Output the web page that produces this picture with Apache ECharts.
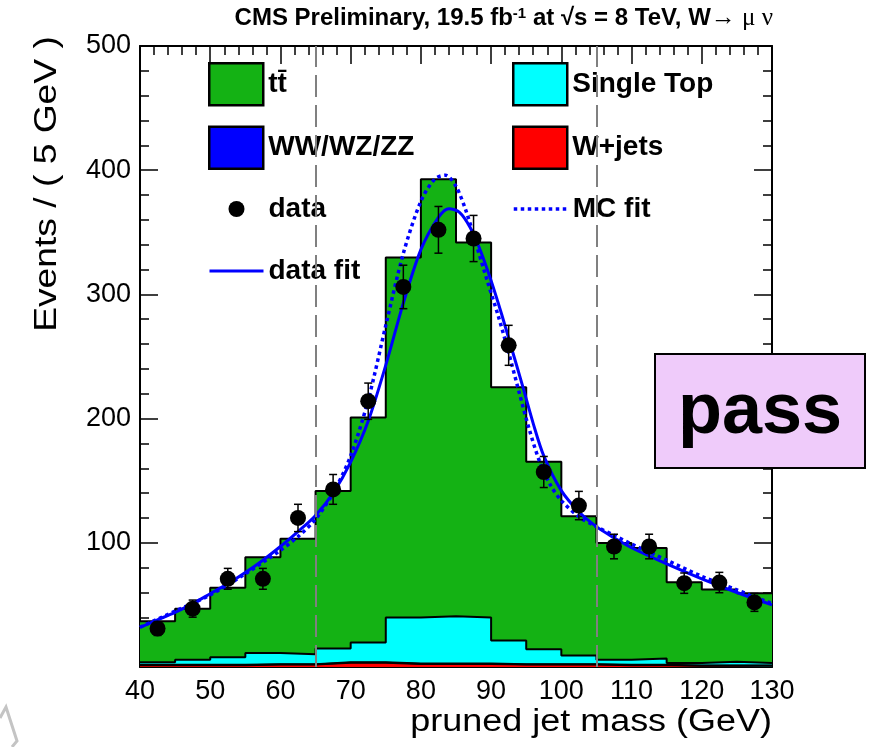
<!DOCTYPE html>
<html><head><meta charset="utf-8">
<script src="https://cdn.jsdelivr.net/npm/echarts@6/dist/echarts.min.js"></script>
<style>html,body{margin:0;padding:0;background:#fff}#c{width:874px;height:747px}</style>
</head><body><div id="c"></div>
<script>
// ---- data ----
const binLow    = [40,45,50,55,60,65,70,75,80,85,90,95,100,105,110,115,120,125];
const binHigh   = 130;
const wjets     = [1.5,1.5,1.5,2,2,3.5,3.5,2.5,2.5,2.5,2,2,2,1.5,1.5,1,1,1];
const diboson   = [0.3,0.3,0.3,0.3,0.3,0.3,0.3,0.3,0.3,0.3,0.3,0.3,0.3,0.3,0.3,0.3,0.3,0.3];
const singleTop = [2,4,6,9,8,11,16,37,38,37,19,12,7,4,5,2,3,2];
const ttbar     = [33,41,56,77,93,127,181,290,352,302,204,151,112,94,89,65,58,56];
const dataX     = [42.5,47.5,52.5,57.5,62.5,67.5,72.5,77.5,82.5,87.5,92.5,97.5,102.5,107.5,112.5,117.5,122.5,127.5];
const dataY     = [31,47,71,71,120,143,214,306,352,345,259,157,130,97,97,67.5,68,52];
const dataErr   = [5.6,6.9,8.4,8.4,11,12,14.6,17.5,18.8,18.6,16.1,12.5,11.4,9.9,9.9,8.2,8.2,7.2];
const fitX = [40,42.5,45,47.5,50,52.5,55,57.5,60,62.5,65,67.5,70,72.5,75,77.5,80,82.5,84,85.5,87,88.5,90,91.5,93,94.5,96,97.5,100,102.5,105,107.5,110,115,120,125,130];
const fitY = [32,38,44,51,59,67,76,86,97,109,122,140,165,198,243,293,336,362,369,366,354,335,311,284,255,226,196,170,142,125,113,104,96,83,71,60,50];
const mcX  = [40,45,50,55,60,62.5,65,67.5,70,72.5,75,77.5,80,82,83.5,85,86.5,88,89.5,91,92.5,94,95.5,97,98.5,100,102.5,105,107.5,110,115,120,125,130];
const mcY  = [32,45,58,75,94,105,119,140,170,215,275,333,375,393,396,387,366,338,310,283,253,221,190,164,146,134,121,113,106,99,86,73,62,51];
const cutEdges = [65,105];
const xTickLabels = [40,50,60,70,80,90,100,110,120,130];
const yTickLabels = [100,200,300,400,500];

// ---- build ----
const FONT = 'Liberation Sans';
const edges = binLow.concat([binHigh]);
function stepData(vals){ return edges.map((x,i)=>[x, vals[Math.min(i, vals.length-1)]]); }
function addArr(a,b){ return a.map((v,i)=>v+b[i]); }
const lvlW   = wjets;
const lvlVV  = addArr(lvlW, diboson);
const lvlST  = addArr(lvlVV, singleTop);
const lvlTT  = addArr(lvlST, ttbar);

function histSeries(name, cum, fill, extra){
  return Object.assign({
    name, type:'line', step:'end', data: stepData(cum),
    symbol:'none', color: fill,
    lineStyle:{color:'#000', width:2},
    areaStyle:{color: fill, opacity:1, origin:'start'},
    z:2, silent:true
  }, extra||{});
}

function mkX(pos, showLabel){
  return {type:'value', position:pos, min:40, max:130, interval:10, gridIndex:0,
    axisLine:{show:true,onZero:false,lineStyle:{color:'#000',width:2}},
    axisTick:{show:true,inside:true,length:18,lineStyle:{color:'#000',width:1.5}},
    minorTick:{show:true,splitNumber:5,length:9,lineStyle:{color:'#000',width:1.5}},
    splitLine:{show:false}, minorSplitLine:{show:false},
    axisLabel:{show:showLabel,color:'#000',fontFamily:FONT,fontSize:27,margin:11,
      formatter:v=>xTickLabels.indexOf(v)>=0?String(v):''}};
}
function mkY(pos, showLabel){
  return {type:'value', position:pos, min:0, max:500, interval:100, gridIndex:0,
    axisLine:{show:true,onZero:false,lineStyle:{color:'#000',width:2}},
    axisTick:{show:true,inside:true,length:18,lineStyle:{color:'#000',width:1.5}},
    minorTick:{show:true,splitNumber:5,length:9,lineStyle:{color:'#000',width:1.5}},
    splitLine:{show:false}, minorSplitLine:{show:false},
    axisLabel:{show:showLabel,color:'#000',fontFamily:FONT,fontSize:27,margin:9,
      formatter:v=>yTickLabels.indexOf(v)>=0?String(v):''}};
}

const legendText = {fontFamily:FONT,fontWeight:'bold',fontSize:28,color:'#000'};
const boxStyle = c => ({color:c,borderColor:'#000',borderWidth:2.5,opacity:1});

const option = {
  animation:false,
  backgroundColor:'#fff',
  title:{
    text:'{b|CMS Preliminary, 19.5 fb}{s|-1}{b| at \u221As = 8 TeV, W}{g|\u2192 \u03BC \u03BD}',
    right:101, top:6, padding:0,
    textStyle:{rich:{
      b:{fontFamily:FONT,fontWeight:'bold',fontSize:24,color:'#000'},
      s:{fontFamily:FONT,fontWeight:'bold',fontSize:15,color:'#000',verticalAlign:'top'},
      g:{fontFamily:'Liberation Serif',fontWeight:'normal',fontSize:25,color:'#000'}
    }}
  },
  grid:{left:140,right:102,top:46,bottom:80,containLabel:false,outerBoundsMode:'none'},
  xAxis:[mkX('bottom',true), mkX('top',false)],
  yAxis:[mkY('left',true), mkY('right',false)],
  legend:[
    {left:208,top:62,orient:'vertical',itemWidth:54,itemHeight:42,itemGap:19,padding:0,selectedMode:false,textStyle:legendText,
      data:[{name:'tt\u0304',icon:'rect',itemStyle:boxStyle('#14b214')},{name:'WW/WZ/ZZ',icon:'rect',itemStyle:boxStyle('#0000ff')}]},
    {left:512,top:62,orient:'vertical',itemWidth:54,itemHeight:42,itemGap:19,padding:0,selectedMode:false,textStyle:legendText,
      data:[{name:'Single Top',icon:'rect',itemStyle:boxStyle('#00ffff')},{name:'W+jets',icon:'rect',itemStyle:boxStyle('#ff0000')}]},
    {left:208,top:195,orient:'vertical',itemWidth:54,itemHeight:16,itemGap:34,padding:0,selectedMode:false,textStyle:legendText,
      lineStyle:{width:3},
      data:[{name:'data',icon:'circle',itemStyle:{color:'#000',opacity:1}},{name:'data fit',itemStyle:{color:'rgba(0,0,0,0)',borderWidth:0,opacity:0}}]},
    {left:512,top:195,orient:'vertical',itemWidth:54,itemHeight:16,itemGap:34,padding:0,selectedMode:false,textStyle:legendText,
      lineStyle:{width:3.5},
      data:[{name:'MC fit',itemStyle:{color:'rgba(0,0,0,0)',borderWidth:0,opacity:0}}]}
  ],
  series:[
    histSeries('tt\u0304', lvlTT, '#14b214'),
    histSeries('Single Top', lvlST, '#00ffff'),
    histSeries('WW/WZ/ZZ', lvlVV, '#0000ff'),
    histSeries('W+jets', lvlW, '#ff0000', {
      markLine:{silent:true,symbol:['none','none'],label:{show:false},
        lineStyle:{color:'#808080',type:[22,8],width:2,opacity:1},
        data:cutEdges.map(v=>({xAxis:v}))}
    }),
    {name:'MC fit',type:'line',data:mcX.map((x,i)=>[x,mcY[i]]),symbol:'none',smooth:0.3,
      color:'#0000ff',lineStyle:{color:'#0000ff',width:3.5,type:'dotted'},z:3,silent:true},
    {name:'data fit',type:'line',data:fitX.map((x,i)=>[x,fitY[i]]),symbol:'none',smooth:0.3,
      color:'#0000ff',lineStyle:{color:'#0000ff',width:3},z:3,silent:true},
    {name:'dataErr',type:'custom',z:4,silent:true,
      data:dataX.map((x,i)=>[x,dataY[i],dataErr[i]]),
      renderItem:(params,api)=>{
        const x=api.value(0),y=api.value(1),e=api.value(2);
        const lo=api.coord([x,y-e]),hi=api.coord([x,y+e]);
        const st={stroke:'#000',lineWidth:1.5};
        return {type:'group',children:[
          {type:'line',shape:{x1:lo[0],y1:lo[1],x2:hi[0],y2:hi[1]},style:st},
          {type:'line',shape:{x1:lo[0]-4,y1:lo[1],x2:lo[0]+4,y2:lo[1]},style:st},
          {type:'line',shape:{x1:hi[0]-4,y1:hi[1],x2:hi[0]+4,y2:hi[1]},style:st}
        ]};
      }},
    {name:'data',type:'scatter',data:dataX.map((x,i)=>[x,dataY[i]]),symbol:'circle',symbolSize:16,
      color:'#000',itemStyle:{color:'#000',opacity:1},z:5,silent:true}
  ],
  graphic:[
    {type:'text',x:47,y:184,rotation:Math.PI/2,scaleX:1.2,style:{text:'Events / ( 5 GeV )',fontFamily:FONT,fontSize:31,fill:'#000',textAlign:'center',textVerticalAlign:'middle'}},
    {type:'text',x:772,y:722,scaleX:1.16,style:{text:'pruned jet mass (GeV)',fontFamily:FONT,fontSize:31,fill:'#000',textAlign:'right',textVerticalAlign:'middle'}},
    {type:'rect',shape:{x:655,y:354,width:210,height:114},style:{fill:'#efcbfa',stroke:'#000',lineWidth:2},z:10},
    {type:'text',x:760,y:413,style:{text:'pass',fontFamily:FONT,fontWeight:'bold',fontSize:72,fill:'#000',textAlign:'center',textVerticalAlign:'middle'},z:11},
    {type:'polyline',shape:{points:[[0,718],[6,707],[17,741],[12,747]]},style:{stroke:'#c4c4c4',lineWidth:3,fill:null},z:1}
  ]
};
const chart = echarts.init(document.getElementById('c'), null, {renderer:'canvas'});
chart.setOption(option);
</script></body></html>
